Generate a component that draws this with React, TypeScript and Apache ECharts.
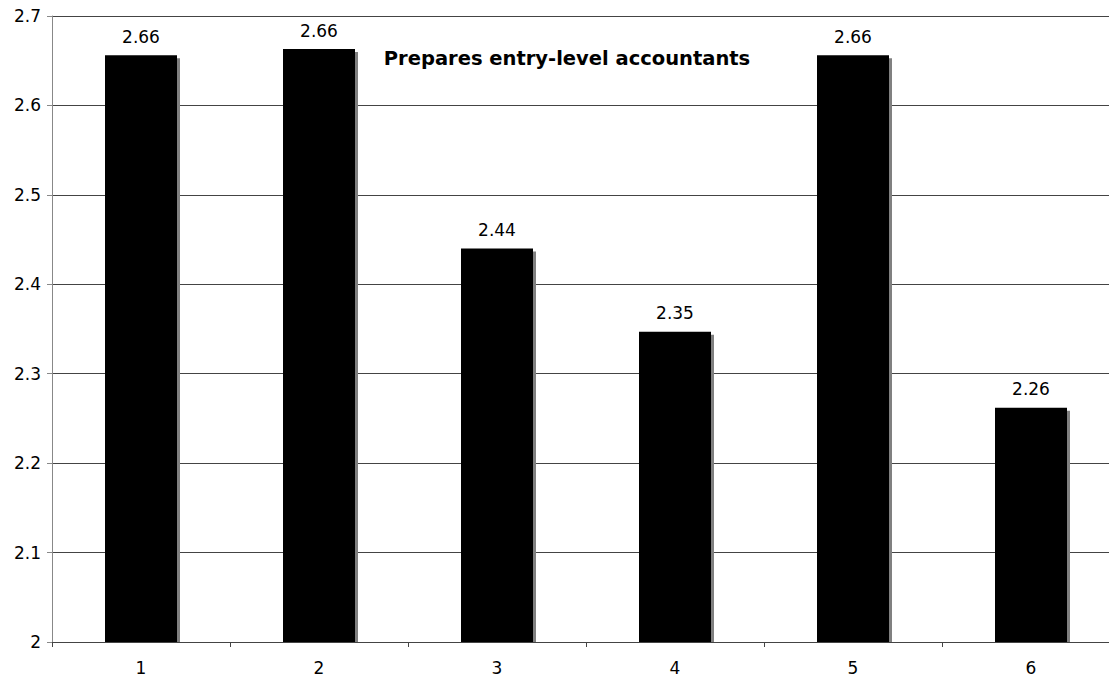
import React, { useEffect, useRef } from "react";
import * as echarts from "echarts";

const categories = ["1", "2", "3", "4", "5", "6"];
const scores = [2.656, 2.663, 2.44, 2.347, 2.656, 2.262];
const chartTitle = "Prepares entry-level accountants";

const AXIS_MIN = 2;
const BAR_WIDTH = 72;
const SHADOW_OFFSET = 3;

export default function App() {
  const ref = useRef<HTMLDivElement>(null);

  useEffect(() => {
    if (!ref.current) return;
    const chart = echarts.init(ref.current, null, { renderer: "svg" });
    chart.setOption({
      animation: false,
      backgroundColor: "#ffffff",
      textStyle: { fontFamily: "DejaVu Sans" },
      title: {
        text: chartTitle,
        left: 562,
        top: 43,
        textAlign: "center",
        textStyle: { fontFamily: "DejaVu Sans", fontWeight: "bold", fontSize: 19.5, color: "#000" },
      },
      grid: { left: 52, right: 0, top: 16, bottom: 34, containLabel: false },
      xAxis: {
        type: "category",
        data: categories,
        axisLine: { lineStyle: { color: "#444", width: 1 } },
        axisTick: { show: true, alignWithLabel: false, length: 5, inside: false, lineStyle: { color: "#444" } },
        axisLabel: { color: "#000", fontSize: 17, margin: 17 },
      },
      yAxis: {
        type: "value",
        min: AXIS_MIN,
        max: 2.7,
        interval: 0.1,
        axisLine: { show: true, lineStyle: { color: "#888", width: 1 } },
        axisTick: { show: true, length: 5, lineStyle: { color: "#888" } },
        axisLabel: {
          color: "#000",
          fontSize: 17,
          margin: 11,
          formatter: (v: number) => String(Math.round(v * 10) / 10),
        },
        splitLine: { show: true, lineStyle: { color: "#444", width: 1 } },
      },
      series: [
        {
          // grey drop shadow behind each bar, clipped at the baseline
          type: "custom",
          z: 1,
          silent: true,
          data: scores.map((v, i) => [i, v]),
          encode: { x: 0, y: 1 },
          renderItem: (params: any, api: any) => {
            const top = api.coord([api.value(0), api.value(1)]);
            const base = api.coord([api.value(0), AXIS_MIN]);
            const x = top[0] - BAR_WIDTH / 2 + SHADOW_OFFSET;
            const y = top[1] + SHADOW_OFFSET;
            return {
              type: "rect",
              shape: { x, y, width: BAR_WIDTH, height: base[1] - y },
              style: { fill: "#808080" },
            };
          },
        },
        {
          type: "bar",
          z: 2,
          data: scores,
          barWidth: BAR_WIDTH,
          itemStyle: { color: "#000" },
          label: {
            show: true,
            position: "top",
            distance: 10,
            color: "#000",
            fontSize: 17,
            formatter: (p: any) => Number(p.value).toFixed(2),
          },
        },
      ],
    });
    return () => chart.dispose();
  }, []);

  return (
    <div style={{ position: "absolute", left: 0, top: 0, width: 1109, height: 676, overflow: "hidden", background: "#fff" }}>
      <div ref={ref} style={{ width: 1120, height: 676 }} />
    </div>
  );
}
